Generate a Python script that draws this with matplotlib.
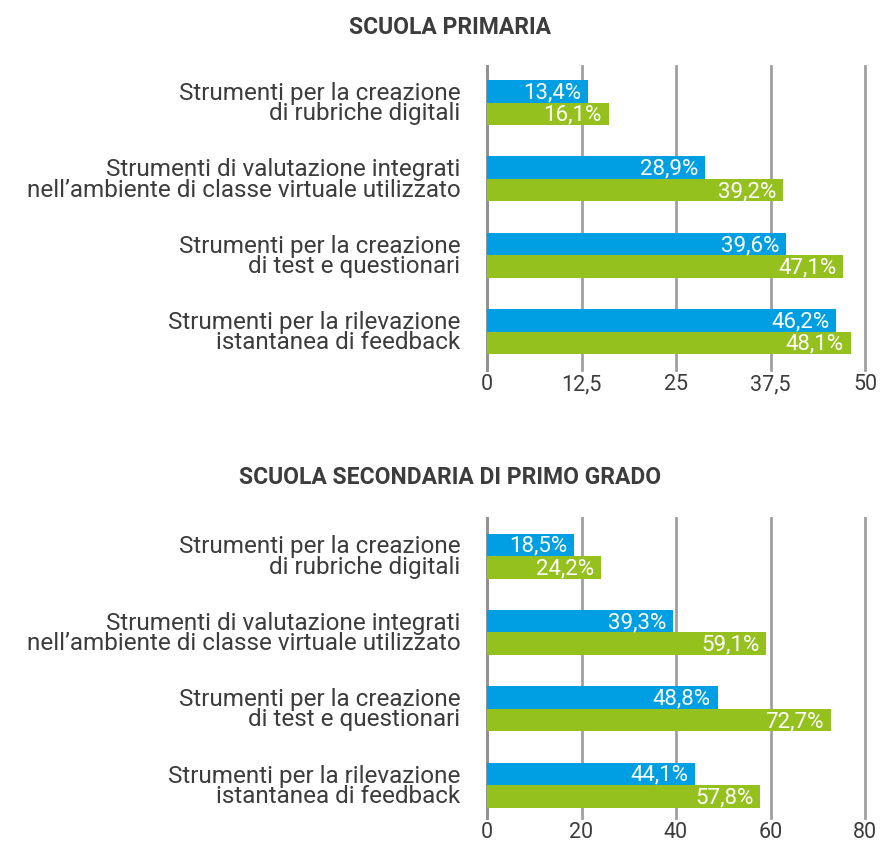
import matplotlib
matplotlib.use("Agg")
import matplotlib.pyplot as plt
import numpy as np

plt.rcParams['font.family'] = ['Roboto', 'DejaVu Sans']

categories = [
    "Strumenti per la creazione\ndi rubriche digitali",
    "Strumenti di valutazione integrati\nnell\u2019ambiente di classe virtuale utilizzato",
    "Strumenti per la creazione\ndi test e questionari",
    "Strumenti per la rilevazione\nistantanea di feedback",
]
primaria_blue = [13.4, 28.9, 39.6, 46.2]
primaria_green = [16.1, 39.2, 47.1, 48.1]
secondaria_blue = [18.5, 39.3, 48.8, 44.1]
secondaria_green = [24.2, 59.1, 72.7, 57.8]
primaria_ticks = [0, 12.5, 25, 37.5, 50]
secondaria_ticks = [0, 20, 40, 60, 80]
titles = ["SCUOLA PRIMARIA", "SCUOLA SECONDARIA DI PRIMO GRADO"]

BLUE = "#009FE3"
GREEN = "#95C11F"
TEXT = "#3C3C3C"
GRID = "#A0A0A0"

W, H = 881, 848
fig = plt.figure(figsize=(W / 100, H / 100), dpi=100)

def fmt(v):
    return ("%g" % v).replace(".", ",")

def panel(top_px, bottom_px, c1_px, c4_px, blue, green, ticks, title, title_y):
    left = 487 / W
    width = (865 - 487) / W
    ax = fig.add_axes([left, 1 - bottom_px / H, width, (bottom_px - top_px) / H])
    n = len(categories)
    y = np.arange(n)
    spacing = (c4_px - c1_px) / (n - 1)
    h = 22.5 / spacing
    ax.barh(y - h / 2, blue, height=h, color=BLUE, zorder=3)
    ax.barh(y + h / 2, green, height=h, color=GREEN, zorder=3)
    for yi, v in zip(y, blue):
        ax.text(v - ticks[-1] * 0.018, yi - h / 2 + 0.02, fmt(v) + "%", ha="right", va="center",
                color="white", fontsize=16, zorder=4)
    for yi, v in zip(y, green):
        ax.text(v - ticks[-1] * 0.018, yi + h / 2 + 0.02, fmt(v) + "%", ha="right", va="center",
                color="white", fontsize=16, zorder=4)
    ax.set_xlim(0, ticks[-1])
    ax.set_ylim(n - 1 + (bottom_px - c4_px) / spacing, -(c1_px - top_px) / spacing)
    ax.set_xticks(ticks)
    ax.set_xticklabels([fmt(t) for t in ticks], fontsize=15.5, color=TEXT)
    ax.set_yticks(y)
    ax.set_yticklabels(categories, fontsize=17.5, color=TEXT, linespacing=0.85)
    ax.tick_params(axis="y", length=0, pad=19)
    ax.tick_params(axis="x", length=0, pad=3)
    ax.grid(axis="x", color=GRID, linewidth=2, zorder=0)
    for gl in ax.get_xgridlines():
        gl.set_clip_on(False)
    for s in ["top", "right", "bottom"]:
        ax.spines[s].set_visible(False)
    ax.spines["left"].set_color("#909090")
    ax.spines["left"].set_linewidth(2)
    fig.text(450 / W, 1 - title_y / H, title, ha="center", va="center",
             fontsize=16.5, fontweight="bold", color=TEXT)
    return ax

panel(66, 370, 102.5, 331.5, primaria_blue, primaria_green, primaria_ticks, titles[0], 28)
panel(518, 818, 556, 785, secondaria_blue, secondaria_green, secondaria_ticks, titles[1], 478)

fig.savefig("out.png", dpi=100, facecolor="white")
